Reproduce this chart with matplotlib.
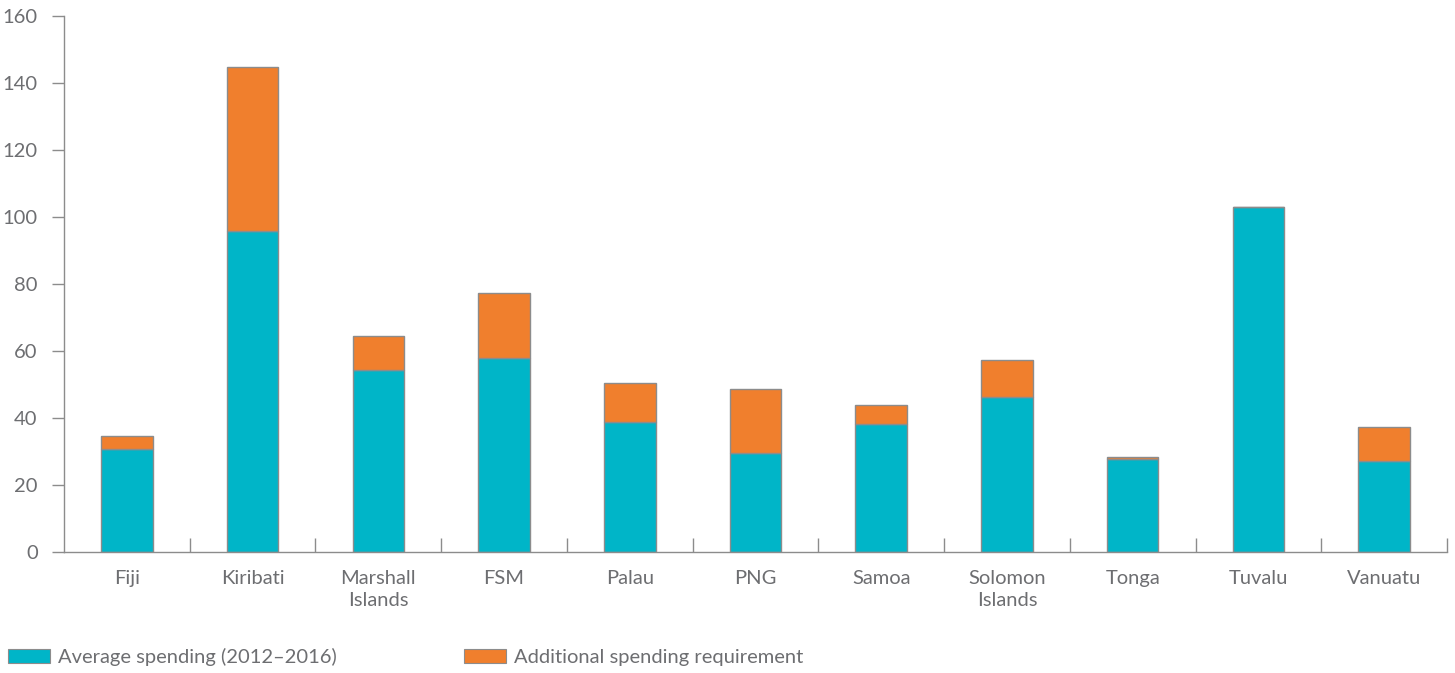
import numpy as np
import matplotlib.pyplot as plt
from matplotlib.patches import Patch

countries = ["Fiji", "Kiribati", "Marshall\nIslands", "FSM", "Palau", "PNG",
             "Samoa", "Solomon\nIslands", "Tonga", "Tuvalu", "Vanuatu"]
avg_spending = [30.8, 95.8, 54.3, 57.9, 38.8, 29.6, 38.2, 46.3, 27.8, 103.1, 27.2]
additional = [3.9, 49.0, 10.2, 19.3, 11.6, 19.1, 5.7, 11.0, 0.6, 0.0, 10.1]

teal = "#00b5c8"
orange = "#f07f2d"
edge = "#8c8c8c"
grey = "#6d6e71"

plt.rcParams["font.family"] = ["Lato", "DejaVu Sans"]
fs = 14.5

fig = plt.figure(figsize=(14.55, 6.73), dpi=100)
ax = fig.add_axes([0.044, 0.18, 0.9505, 0.796])

x = np.arange(len(countries))
w = 0.41
ax.bar(x, avg_spending, w, color=teal, edgecolor=edge, linewidth=1.0)
ax.bar(x, additional, w, bottom=avg_spending, color=orange, edgecolor=edge, linewidth=1.0)

ax.set_xlim(-0.5, len(countries) - 0.5)
ax.set_ylim(0, 160)
ax.set_yticks(np.arange(0, 161, 20))

ax.set_xticks(x)
ax.set_xticklabels(countries, fontsize=fs, color=grey, linespacing=1.35)
ax.tick_params(axis="x", which="major", length=0, pad=13)
ax.set_xticks(np.arange(0.5, len(countries), 1), minor=True)
ax.tick_params(axis="x", which="minor", direction="in", length=10, color=edge, width=1)
ax.tick_params(axis="y", direction="out", length=9, color=edge, width=1,
               labelsize=fs, labelcolor=grey, pad=10)

for s in ["top", "right"]:
    ax.spines[s].set_visible(False)
for s in ["left", "bottom"]:
    ax.spines[s].set_color(edge)
    ax.spines[s].set_linewidth(1)

handles = [Patch(facecolor=teal, edgecolor=edge, linewidth=0.8),
           Patch(facecolor=orange, edgecolor=edge, linewidth=0.8)]
labels = ["Average spending (2012\u20132016)", "Additional spending requirement"]
leg = fig.legend(handles, labels, loc="center left", bbox_to_anchor=(0.0055, 0.024),
                 ncol=2, frameon=False, fontsize=fs, handlelength=2.09,
                 handleheight=0.65, handletextpad=0.4, columnspacing=6.3,
                 borderaxespad=0, borderpad=0)
for t in leg.get_texts():
    t.set_color(grey)

fig.savefig("out.png", dpi=100)
